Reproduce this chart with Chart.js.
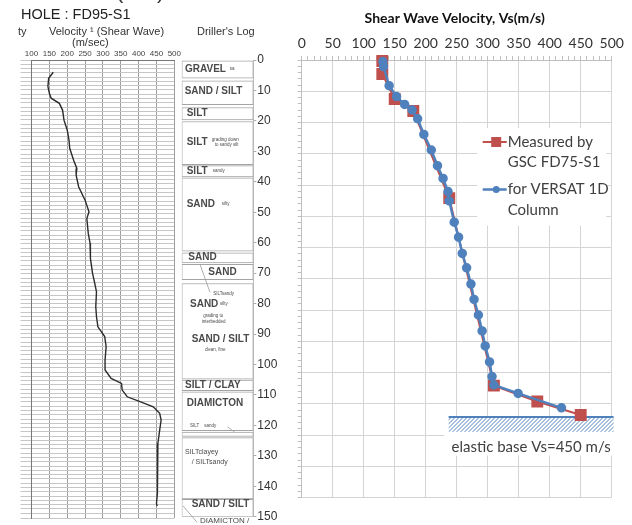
<!DOCTYPE html>
<html lang="en">
<head>
<meta charset="UTF-8">
<title>FD95-S1 shear wave velocity</title>
<style>
    body { margin: 0; background: #fff; }
    #page { position: relative; width: 632px; height: 525px; overflow: hidden; background: #fff; }
    canvas { position: absolute; top: 0; }
    #logChart { left: 0; }
    #drillChart { left: 170px; }
    #vsChart { left: 285px; }
</style>
</head>
<body>
<div id="page">
    <canvas id="logChart" width="182" height="525"></canvas>
    <canvas id="drillChart" width="115" height="525"></canvas>
    <canvas id="vsChart" width="347" height="525"></canvas>
</div>

<script src="https://cdn.jsdelivr.net/npm/chart.js@4.4.1/dist/chart.umd.min.js"></script>
<script>
    // ---- left: borehole log FD95-S1, shear wave velocity (m/sec) vs depth (m)
    var logDepth = [4.0, 6.0, 8.7, 10.9, 12.5, 14.2, 16.4, 19.7, 22.9, 26.2, 28.9, 32.8, 35.5, 37.7, 41.5,
        45.9, 49.7, 51.9, 56.8, 60.0, 63.3, 65.0, 69.9, 73.1, 75.9, 80.8, 84.1, 87.4, 90.6, 93.9,
        98.3, 101.5, 104.3, 105.9, 108.1, 110.3, 111.9, 113.6, 115.7, 117.9, 121.2, 125.5, 129.9,
        136.5, 141.9, 145.2, 146.1];
    var logVel = [161, 148, 146, 150, 155, 178, 187, 191, 200, 205, 207, 218, 227, 225, 232,
        250, 261, 255, 259, 264, 266, 264, 271, 277, 282, 280, 282, 286, 305, 309,
        306, 306, 323, 352, 354, 368, 404, 441, 459, 463, 459, 454, 452,
        452, 454, 450, 452];

    // driller's log layers (depth m)
    var layerTop = [0.3, 6.8, 15.6, 20.2, 34.7, 38.7, 63.3, 67.1, 73.4, 105.1, 109.0, 122.2, 124.0, 144.3];
    var layerBottom = [6.0, 14.7, 19.7, 34.4, 38.4, 62.8, 66.6, 72.1, 104.8, 108.6, 121.7, 123.6, 144.1, 150];

    // ---- right: Vs profile
    var measDepth = [0.3, 4.5, 12.5, 16.3, 44.2, 104.2, 109.3, 113.6];
    var measVs = [130, 130, 150, 180, 238, 310, 380, 450];
    var versatDepth = [0.5, 2.1, 8.2, 11.7, 14.2, 16.0, 18.8, 23.8, 28.8, 33.8, 37.9, 42.1, 45.1, 51.9,
        56.7, 61.9, 66.5, 71.7, 76.6, 81.6, 86.7, 91.5, 96.6, 101.3, 104.0, 106.7, 111.3];
    var versatVs = [131, 132, 141, 153, 166, 178, 187, 197, 209, 219, 228, 236, 238, 246,
        253, 259, 266, 273, 278, 285, 291, 296, 303, 307, 310, 349, 419];
    var baseDepth = 114.2;
    var baseVs = 450;

    var ARIAL = '"Liberation Sans", Arial, sans-serif';
    var CAL = 'Lato, "Open Sans", sans-serif';

    // text notes in the driller's log column: text, x offset from column left, depth, style
    var drillNotes = [
        ['GRAVEL', 3.3, 2.9, 'b'], ['sa', 48, 2.9, 't'],
        ['SAND / SILT', 3, 10.2, 'b'],
        ['SILT', 5, 17.4, 'b'],
        ['SILT', 5, 26.9, 'b'], ['grading down', 30, 26.1, 't'], ['to sandy silt', 33, 27.7, 't'],
        ['SILT', 5, 36.4, 'b'], ['sandy', 31, 36.3, 't'],
        ['SAND', 5, 47.5, 'b'], ['silty', 40, 47.3, 't'],
        ['SAND', 6.6, 64.9, 'b'],
        ['SAND', 26.6, 69.8, 'b'],
        ['SILTsandy', 31.6, 76.9, 't'],
        ['SAND', 8.3, 80.2, 'b'], ['silty', 38.3, 80.0, 't'],
        ['grading to', 21.6, 84.1, 't'], ['interbedded', 20, 86.0, 't'],
        ['SAND / SILT', 10, 91.7, 'b'], ['clean, fine', 23.3, 95.3, 't'],
        ['SILT / CLAY', 3.3, 106.8, 'b'],
        ['DIAMICTON', 5, 112.7, 'b'],
        ['SILT    sandy', 8.3, 120.1, 't'],
        ['SILTclayey', 3.3, 128.6, 's'], ['/ SILTsandy', 10, 131.9, 's'],
        ['SAND / SILT', 10, 145.8, 'b'],
        ['DIAMICTON /', 18.3, 151.3, 'm']
    ];
    var drillLeaders = [[18.3, 67.1, 28.3, 76.3], [46, 120.5, 53, 122.2], [1.3, 146.4, 15.3, 151.8]];
    var noteFonts = {
        b: 'bold 10px ' + ARIAL,
        t: '4.5px ' + ARIAL,
        s: '7px ' + ARIAL,
        m: '8px ' + ARIAL
    };

    var logHeader = {
        id: 'logHeader',
        afterDraw: function (chart) {
            var c = chart.ctx;
            c.save();
            c.fillStyle = '#222';
            c.textBaseline = 'middle';
            c.textAlign = 'left';
            c.font = '14.5px ' + ARIAL;
            c.fillText('HOLE : FD95-S1', 21, 15);
            c.font = '11px ' + ARIAL;
            c.fillStyle = '#333';
            c.fillText('ty', 18, 32);
            c.fillText('Velocity \u00b9 (Shear Wave)', 49, 31.5);
            c.fillText('(m/sec)', 72, 42.5);
            // cut-off figure label at the top edge
            c.textBaseline = 'alphabetic';
            c.font = '22px ' + ARIAL;
            c.fillText('(', 116, -2);
            c.fillText('a', 133, 0);
            c.fillText(')', 157, -2);
            c.restore();
        }
    };

    var drillText = {
        id: 'drillText',
        afterDraw: function (chart) {
            var c = chart.ctx;
            var left = chart.chartArea.left;
            var y = chart.scales.y;
            c.save();
            c.fillStyle = '#333';
            c.textBaseline = 'middle';
            c.textAlign = 'left';
            c.font = '11px ' + ARIAL;
            c.fillText("Driller's Log", left + 15.3, 31.5);
            c.fillStyle = '#4a4a4a';
            drillNotes.forEach(function (n) {
                c.font = noteFonts[n[3]];
                c.fillText(n[0], left + n[1], y.getPixelForValue(n[2]));
            });
            c.strokeStyle = '#999';
            c.lineWidth = 0.8;
            drillLeaders.forEach(function (l) {
                c.beginPath();
                c.moveTo(left + l[0], y.getPixelForValue(l[1]));
                c.lineTo(left + l[2], y.getPixelForValue(l[3]));
                c.stroke();
            });
            c.restore();
        }
    };

    var vsDecor = {
        id: 'vsDecor',
        beforeDatasetsDraw: function (chart) {
            var c = chart.ctx, x = chart.scales.x, y = chart.scales.y;
            c.save();
            c.fillStyle = '#fff';
            // legend background
            var l1 = x.getPixelForValue(283), t1 = y.getPixelForValue(21.8);
            c.fillRect(l1, t1, x.getPixelForValue(491) - l1, y.getPixelForValue(53) - t1);
            // elastic base note background
            var l2 = x.getPixelForValue(230), t2 = y.getPixelForValue(baseDepth);
            c.fillRect(l2, t2, x.getPixelForValue(503) - l2, y.getPixelForValue(126.6) - t2);

            // hatched elastic base
            var hx1 = x.getPixelForValue(237), hx2 = x.getPixelForValue(503);
            var hy1 = y.getPixelForValue(baseDepth), hy2 = y.getPixelForValue(119);
            c.save();
            c.beginPath();
            c.rect(hx1, hy1, hx2 - hx1, hy2 - hy1);
            c.clip();
            c.strokeStyle = '#4f81bd';
            c.lineWidth = 1;
            for (var k = hx1 - 20; k < hx2 + 20; k += 4) {
                c.beginPath();
                c.moveTo(k, hy2);
                c.lineTo(k + (hy2 - hy1), hy1);
                c.stroke();
            }
            c.restore();
            c.strokeStyle = '#4f81bd';
            c.lineWidth = 2;
            c.beginPath();
            c.moveTo(hx1, hy1);
            c.lineTo(hx2, hy1);
            c.stroke();
            c.restore();
        },
        afterDatasetsDraw: function (chart) {
            var c = chart.ctx, x = chart.scales.x, y = chart.scales.y, ca = chart.chartArea;
            c.save();
            c.font = '15px ' + CAL;
            c.fillStyle = '#404040';
            c.textBaseline = 'middle';
            c.textAlign = 'center';
            c.fillText('elastic base Vs=' + baseVs + ' m/s', x.getPixelForValue(370), y.getPixelForValue(123.8));

            // legend
            var lx = ca.left + 181, mx = ca.left + 194.5, tx = ca.left + 206;
            var items = [
                { color: '#c0504d', y: 142, lines: ['Measured by', 'GSC FD75-S1'], square: true },
                { color: '#4f81bd', y: 189.5, lines: ['for VERSAT 1D', 'Column'], square: false }
            ];
            c.textAlign = 'left';
            items.forEach(function (it) {
                c.strokeStyle = it.color;
                c.fillStyle = it.color;
                c.lineWidth = it.square ? 2 : 2.5;
                c.beginPath();
                c.moveTo(lx, it.y);
                c.lineTo(tx - 1, it.y);
                c.stroke();
                if (it.square) {
                    c.fillRect(mx - 5, it.y - 5, 10, 10);
                } else {
                    c.beginPath();
                    c.arc(mx, it.y, 3.5, 0, Math.PI * 2);
                    c.fill();
                }
                c.fillStyle = '#404040';
                c.fillText(it.lines[0], tx, it.y);
                c.fillText(it.lines[1], tx, it.y + 20.5);
            });
            c.restore();
        }
    };

    function makePoints(xs, ys) {
        return ys.map(function (d, i) { return { x: xs[i], y: d }; });
    }

    var logChart = new Chart(document.getElementById('logChart'), {
        type: 'scatter',
        data: {
            datasets: [{
                data: makePoints(logVel, logDepth),
                showLine: true,
                borderColor: '#2b2b2b',
                borderWidth: 1.4,
                pointRadius: 0,
                tension: 0
            }]
        },
        options: {
            responsive: false,
            animation: false,
            devicePixelRatio: 1,
            layout: { padding: { left: 0, top: 0, right: 3.5, bottom: 7 } },
            plugins: { legend: { display: false }, tooltip: { enabled: false } },
            scales: {
                x: {
                    type: 'linear', position: 'top', min: 100, max: 500,
                    ticks: { stepSize: 50, autoSkip: false, maxRotation: 0, padding: 1,
                        font: { family: ARIAL, size: 8 }, color: '#444' },
                    grid: { color: '#9c9c9c', drawTicks: false },
                    border: { color: '#777' },
                    afterFit: function (s) { s.height = 60; }
                },
                y: {
                    type: 'linear', reverse: true, min: 0, max: 150,
                    ticks: { display: false, stepSize: 1.4 },
                    grid: { color: '#c6c6c6', tickLength: 11 },
                    border: { color: '#777' },
                    afterFit: function (s) { s.width = 31.5; }
                }
            }
        },
        plugins: [logHeader]
    });

    var drillChart = new Chart(document.getElementById('drillChart'), {
        type: 'bar',
        data: {
            labels: ['log'],
            datasets: [{
                data: layerTop.map(function (t, i) { return { x: 'log', y: [t, layerBottom[i]] }; }),
                backgroundColor: '#fff',
                borderColor: '#a4a4a4',
                borderWidth: 1,
                borderSkipped: false,
                barThickness: 71.6
            }]
        },
        options: {
            responsive: false,
            animation: false,
            devicePixelRatio: 1,
            layout: { padding: { left: 11.7, top: 60, right: 0, bottom: 7 } },
            plugins: { legend: { display: false }, tooltip: { enabled: false } },
            scales: {
                x: { display: false },
                y: {
                    position: 'right', reverse: true, min: 0, max: 150,
                    ticks: { stepSize: 10, padding: 1, font: { family: ARIAL, size: 12 }, color: '#333' },
                    grid: { drawOnChartArea: false, tickLength: 3, color: '#aaa' },
                    border: { color: '#bbb' },
                    afterFit: function (s) { s.width = 31.7; }
                }
            }
        },
        plugins: [drillText]
    });

    var vsChart = new Chart(document.getElementById('vsChart'), {
        type: 'scatter',
        data: {
            datasets: [{
                label: 'for VERSAT 1D Column',
                data: makePoints(versatVs, versatDepth),
                showLine: true,
                borderColor: '#4f81bd',
                backgroundColor: '#4f81bd',
                borderWidth: 2.5,
                pointRadius: 3.5,
                clip: false
            }, {
                label: 'Measured by GSC FD75-S1',
                data: makePoints(measVs, measDepth),
                showLine: true,
                borderColor: '#c0504d',
                backgroundColor: '#c0504d',
                borderWidth: 2,
                pointStyle: 'rect',
                pointRadius: 7,
                clip: false
            }]
        },
        options: {
            responsive: false,
            animation: false,
            devicePixelRatio: 1,
            layout: { padding: { left: 12.7, top: 0, right: 20.3, bottom: 27.5 } },
            plugins: {
                legend: { display: false },
                tooltip: { enabled: false },
                title: {
                    display: true,
                    text: 'Shear Wave Velocity, Vs(m/s)',
                    color: '#111',
                    font: { family: CAL, size: 14, weight: 'bold' },
                    padding: { top: 10, bottom: 4 }
                }
            },
            scales: {
                xm: {
                    type: 'linear', position: 'top', min: 0, max: 500, weight: 0,
                    ticks: { display: false, stepSize: 10 },
                    grid: { drawOnChartArea: false, tickLength: 4, color: '#bfbfbf' },
                    border: { color: '#bfbfbf' },
                    afterFit: function (s) { s.height = 4; }
                },
                x: {
                    type: 'linear', position: 'top', min: 0, max: 500, weight: 1,
                    ticks: { stepSize: 50, autoSkip: false, maxRotation: 0, padding: 4,
                        font: { family: CAL, size: 14 }, color: '#333' },
                    grid: { color: '#d4d4d4', drawTicks: false },
                    border: { display: false },
                    afterFit: function (s) { s.height = 25.2; }
                },
                ym: {
                    type: 'linear', position: 'left', reverse: true, min: 0, max: 140, weight: 0,
                    ticks: { display: false, stepSize: 2 },
                    grid: { drawOnChartArea: false, tickLength: 4, color: '#bfbfbf' },
                    border: { color: '#bfbfbf' },
                    afterFit: function (s) { s.width = 4; }
                },
                y: {
                    type: 'linear', position: 'left', reverse: true, min: 0, max: 140, weight: 1,
                    ticks: { display: false, stepSize: 10 },
                    grid: { color: '#d4d4d4', drawTicks: false },
                    border: { display: false },
                    afterFit: function (s) { s.width = 0; }
                }
            }
        },
        plugins: [vsDecor]
    });
</script>
</body>
</html>
